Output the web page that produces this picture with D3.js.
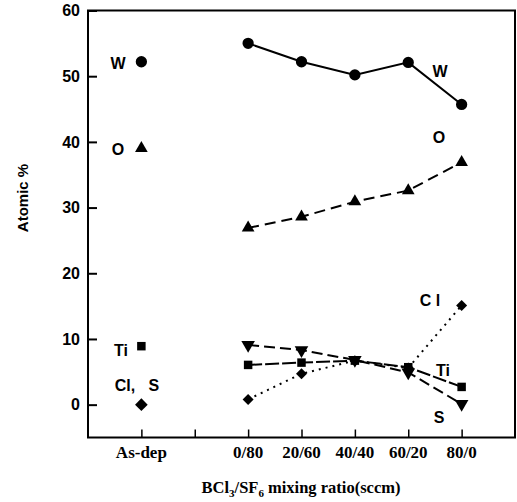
<!DOCTYPE html>
<html><head><meta charset="utf-8">
<script src="https://cdn.jsdelivr.net/npm/d3@7"></script>
<style>body{margin:0;background:#fff}svg{display:block}</style>
</head><body>
<svg id="c" width="517" height="502"></svg>
<script>
const xCats = ["As-dep", "", "0/80", "20/60", "40/40", "60/20", "80/0"];
const yTicks = [0, 10, 20, 30, 40, 50, 60];
const ratioIdx = [2, 3, 4, 5, 6];
const W  = [55.0, 52.2, 50.2, 52.1, 45.7];
const O  = [26.9, 28.6, 30.9, 32.6, 36.9];
const Ti = [6.05, 6.4, 6.7, 5.7, 2.7];
const S  = [9.1, 8.3, 6.8, 4.9, 0.1];
const Cl = [0.8, 4.7, 6.7, 5.6, 15.1];
const asDep = {W: 52.2, O: 39.0, Ti: 8.9, ClS: 0};

const svg = d3.select("#c");
const x = d3.scaleLinear().domain([-1, 7]).range([88, 515]);
const y = d3.scaleLinear().domain([-5, 60]).range([437.5, 10.5]);

// frame
svg.append("rect").attr("x", x(-1)).attr("y", y(60)).attr("width", x(7)-x(-1)).attr("height", y(-5)-y(60))
  .attr("fill", "none").attr("stroke", "#000").attr("stroke-width", 2);

// y axis
const yAx = svg.append("g").attr("transform", `translate(${x(-1)},0)`)
  .call(d3.axisRight(y).tickValues(yTicks).tickSize(9).tickFormat(""));
yAx.select(".domain").remove();
yAx.selectAll("line").attr("stroke-width", 2);
svg.selectAll(".ylab").data(yTicks).join("text")
  .attr("x", 80).attr("y", d => y(d)).attr("dy", "0.36em")
  .attr("text-anchor", "end").attr("font-family", "Liberation Sans, Arial, sans-serif")
  .attr("font-weight", "bold").attr("font-size", 16).text(d => d);

// x axis
const xAx = svg.append("g").attr("transform", `translate(0,${y(-5)})`)
  .call(d3.axisTop(x).tickValues(d3.range(0, 7)).tickSize(8).tickFormat(""));
xAx.select(".domain").remove();
xAx.selectAll("line").attr("stroke-width", 1.5);
svg.selectAll(".xlab").data(xCats).join("text")
  .attr("x", (d, i) => x(i)).attr("y", 458).attr("text-anchor", "middle")
  .attr("font-family", "Liberation Serif, Times New Roman, serif").attr("font-weight", "bold")
  .attr("font-size", 17).text(d => d);

// axis titles
const xt = svg.append("text").attr("x", 301).attr("y", 493).attr("text-anchor", "middle")
  .attr("font-family", "Liberation Serif, Times New Roman, serif").attr("font-weight", "bold").attr("font-size", 16.5);
xt.append("tspan").text("BCl");
xt.append("tspan").attr("font-size", 11).attr("dy", 4).text("3");
xt.append("tspan").attr("dy", -4).text("/SF");
xt.append("tspan").attr("font-size", 11).attr("dy", 4).text("6");
xt.append("tspan").attr("dy", -4).text(" mixing ratio(sccm)");

svg.append("text").attr("transform", "translate(28,198) rotate(-90)").attr("text-anchor", "middle")
  .attr("font-family", "Liberation Sans, Arial, sans-serif").attr("font-weight", "bold").attr("font-size", 15)
  .text("Atomic %");

// series
const series = [
  {name: "W", vals: W, dash: null, sym: d3.symbolCircle, size: 100, rot: 0},
  {name: "O", vals: O, dash: "11,6", sym: d3.symbolTriangle, size: 70, rot: 0},
  {name: "Ti", vals: Ti, dash: "14,3", sym: d3.symbolSquare, size: 72, rot: 0},
  {name: "S", vals: S, dash: "11,5", sym: d3.symbolTriangle, size: 80, rot: 180},
  {name: "Cl", vals: Cl, dash: "2,5", sym: d3.symbolSquare, size: 60, rot: 45}
];
const line = d3.line().x(d => x(d[0])).y(d => y(d[1]));
series.forEach(s => {
  const pts = ratioIdx.map((r, i) => [r, s.vals[i]]);
  svg.append("path").attr("d", line(pts)).attr("fill", "none").attr("stroke", "#000")
    .attr("stroke-width", 2).attr("stroke-dasharray", s.dash);
  svg.selectAll(null).data(pts).join("path")
    .attr("d", d3.symbol().type(s.sym).size(s.size))
    .attr("transform", d => `translate(${x(d[0])},${y(d[1])}) rotate(${s.rot})`).attr("fill", "#000");
});

// As-dep markers
const ad = [
  {v: asDep.W, sym: d3.symbolCircle, size: 100, rot: 0},
  {v: asDep.O, sym: d3.symbolTriangle, size: 70, rot: 0},
  {v: asDep.Ti, sym: d3.symbolSquare, size: 72, rot: 0},
  {v: asDep.ClS, sym: d3.symbolSquare, size: 80, rot: 45}
];
svg.selectAll(null).data(ad).join("path")
  .attr("d", d => d3.symbol().type(d.sym).size(d.size)())
  .attr("transform", d => `translate(${x(0)},${y(d.v)}) rotate(${d.rot})`).attr("fill", "#000");

// labels
const labels = [
  {t: "W", x: 118, y: 63}, {t: "O", x: 118, y: 149}, {t: "Ti", x: 121, y: 350}, {t: "Cl,\u00a0\u00a0\u00a0S", x: 137, y: 385},
  {t: "W", x: 440, y: 71}, {t: "O", x: 439, y: 137}, {t: "C l", x: 430, y: 300}, {t: "Ti", x: 443, y: 370}, {t: "S", x: 439, y: 417}
];
svg.selectAll(".lbl").data(labels).join("text")
  .attr("x", d => d.x).attr("y", d => d.y).attr("dy", "0.36em").attr("text-anchor", "middle")
  .attr("font-family", "Liberation Sans, Arial, sans-serif").attr("font-weight", "bold").attr("font-size", 16)
  .text(d => d.t);
</script>
</body></html>
